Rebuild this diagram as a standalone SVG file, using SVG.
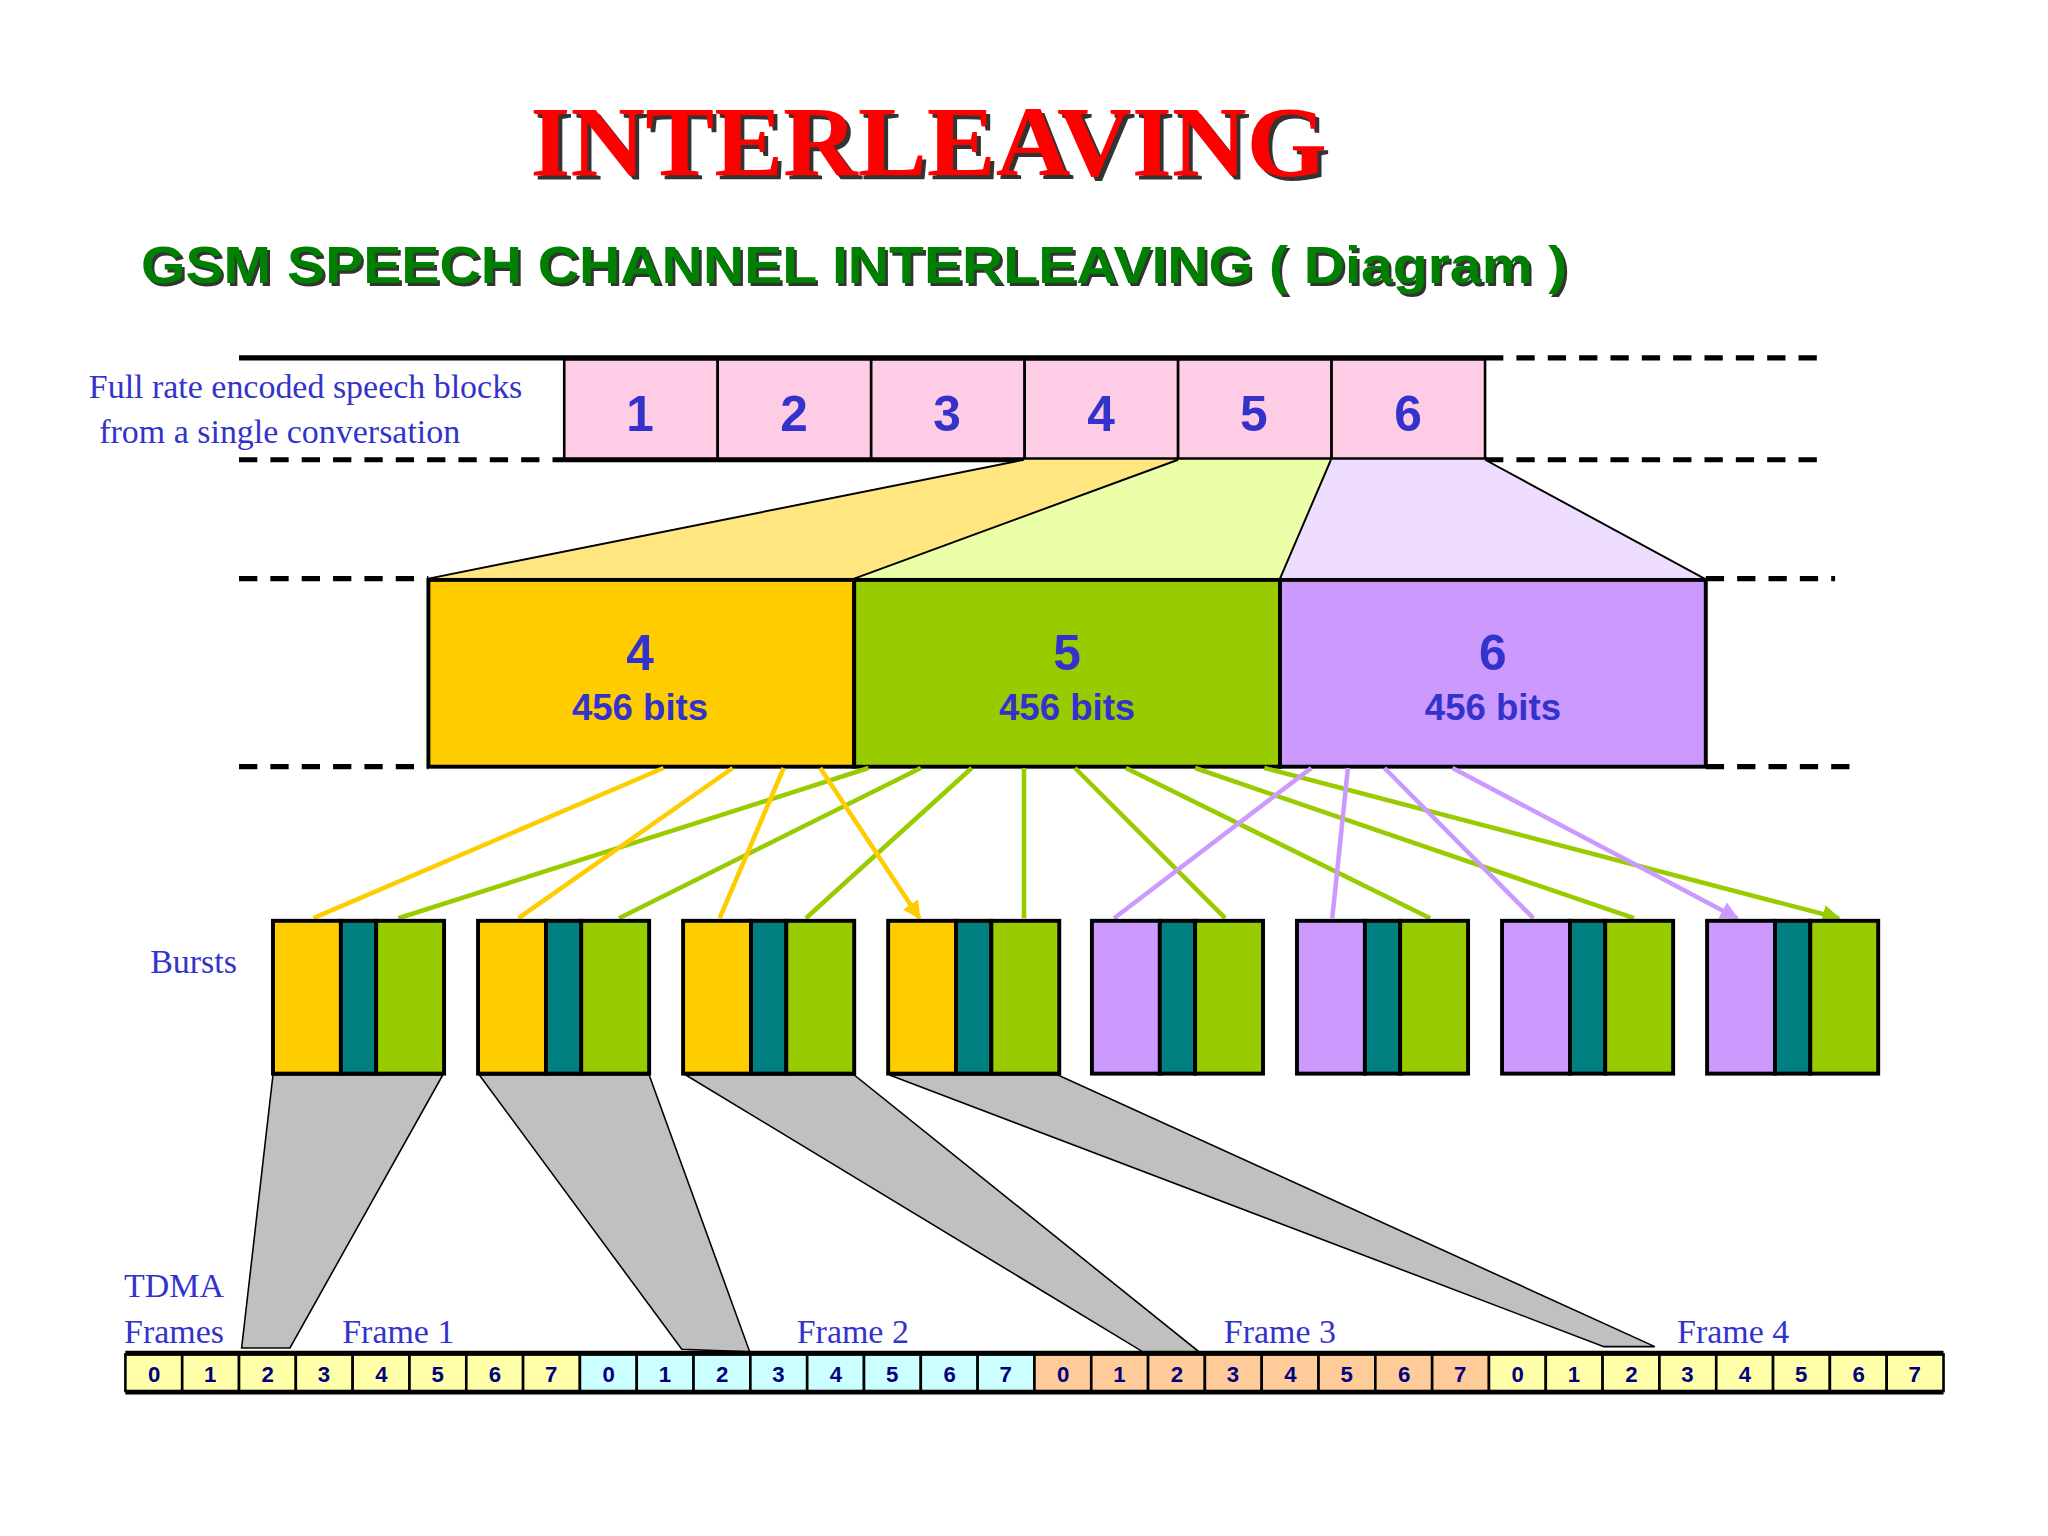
<svg xmlns="http://www.w3.org/2000/svg" width="2048" height="1536" viewBox="0 0 2048 1536">
<defs>
<style>
.lbl{font-family:"Liberation Serif",serif;font-size:26px;fill:#3333CC}
.num{font-family:"Liberation Sans",Arial,sans-serif;font-weight:bold;fill:#3333CC;text-anchor:middle}
.tn{font-family:"Liberation Sans",Arial,sans-serif;font-weight:bold;font-size:17px;fill:#000080;text-anchor:middle}
.dash{stroke:#000;stroke-width:4;stroke-dasharray:14 10;fill:none}
.solid{stroke:#000;stroke-width:4;fill:none}
.ay{stroke:#FFCC00;stroke-width:3.5;fill:none;marker-end:url(#my)}
.ag{stroke:#99CC00;stroke-width:3.5;fill:none;marker-end:url(#mg)}
.ap{stroke:#CC99FF;stroke-width:3.5;fill:none;marker-end:url(#mp)}
.fun{fill:#C0C0C0;stroke:#000;stroke-width:1.2}
.bx{stroke:#000;stroke-width:3}
</style>
<marker id="my" viewBox="0 0 10 10" refX="9" refY="5" markerWidth="4" markerHeight="4" orient="auto"><path d="M0,0 L10,5 L0,10 z" fill="#FFCC00"/></marker>
<marker id="mg" viewBox="0 0 10 10" refX="9" refY="5" markerWidth="4" markerHeight="4" orient="auto"><path d="M0,0 L10,5 L0,10 z" fill="#99CC00"/></marker>
<marker id="mp" viewBox="0 0 10 10" refX="9" refY="5" markerWidth="4" markerHeight="4" orient="auto"><path d="M0,0 L10,5 L0,10 z" fill="#CC99FF"/></marker>
</defs>
<rect width="2048" height="1536" fill="#fff"/>
<g transform="scale(1.30612)">
<g id="title">
<text x="714" y="137" font-family="Liberation Serif,serif" font-weight="bold" font-size="76" fill="#333" text-anchor="middle" textLength="610" lengthAdjust="spacingAndGlyphs">INTERLEAVING</text>
<text x="711" y="134" font-family="Liberation Serif,serif" font-weight="bold" font-size="76" fill="#FF0000" text-anchor="middle" textLength="610" lengthAdjust="spacingAndGlyphs">INTERLEAVING</text>
<text x="110" y="219" font-family="Liberation Sans,Arial,sans-serif" font-weight="bold" font-size="40" fill="#333" textLength="1092" lengthAdjust="spacingAndGlyphs">GSM SPEECH CHANNEL INTERLEAVING ( Diagram )</text>
<text x="108" y="217" font-family="Liberation Sans,Arial,sans-serif" font-weight="bold" font-size="40" fill="#008000" textLength="1092" lengthAdjust="spacingAndGlyphs">GSM SPEECH CHANNEL INTERLEAVING ( Diagram )</text>
</g>
<g id="speech-blocks">
<text class="lbl" x="68" y="305">Full rate encoded speech blocks</text>
<text class="lbl" x="76" y="339">from a single conversation</text>
<g fill="#FFCCE5" stroke="#000" stroke-width="2">
<rect x="432" y="275" width="117.5" height="77"/><rect x="549.5" y="275" width="117.5" height="77"/><rect x="667" y="275" width="117.5" height="77"/><rect x="784.5" y="275" width="117.5" height="77"/><rect x="902" y="275" width="117.5" height="77"/><rect x="1019.5" y="275" width="117.5" height="77"/>
</g>
<g class="num" font-size="38"><text x="490" y="330">1</text><text x="608" y="330">2</text><text x="725" y="330">3</text><text x="843" y="330">4</text><text x="960" y="330">5</text><text x="1078" y="330">6</text></g>
<path class="solid" d="M183,274 H1137 M432,352 H1137"/>
<path class="dash" d="M1137,274 H1392 M183,352 H432 M1137,352 H1392 M183,443 H328 M1306,443 H1405 M183,587 H328 M1306,587 H1418"/>
</g>
<g id="expansion">
<polygon points="784,352 902,352 654,443 328,443" fill="#FFE680"/>
<polygon points="902,352 1019,352 980,443 654,443" fill="#EAFFA8"/>
<polygon points="1019,352 1137,352 1305,443 980,443" fill="#EEDDFF"/>
<path d="M784,352 L328,443 M902,352 L654,443 M1019,352 L980,443 M1137,352 L1305,443" stroke="#000" stroke-width="1.5" fill="none"/>
</g>
<g id="blocks456">
<rect class="bx" x="328" y="444" width="326" height="143" fill="#FFCC00"/>
<rect class="bx" x="654" y="444" width="326" height="143" fill="#99CC00"/>
<rect class="bx" x="980" y="444" width="326" height="143" fill="#CC99FF"/>
<g class="num"><text x="490" y="513" font-size="38">4</text><text x="817" y="513" font-size="38">5</text><text x="1143" y="513" font-size="38">6</text>
<text x="490" y="551" font-size="28">456 bits</text><text x="817" y="551" font-size="28">456 bits</text><text x="1143" y="551" font-size="28">456 bits</text></g>
</g>
<g id="connectors">
<path class="ag" d="M665,588 L305,703 M705,588 L474,703 M744,588 L617,703 M784,588 L784,703 M823,588 L938,703 M862,588 L1095,703 M915,588 L1251,703 M968,588 L1408,703"/>
<path class="ay" d="M508,588 L240,703 M561,588 L397,703 M600,588 L551,703 M628,588 L704,703"/>
<path class="ap" d="M1004,588 L853,703 M1032,588 L1020,703 M1060,588 L1174,703 M1112,588 L1330,703"/>
<polygon class="fun" points="209,823 339,823 222,1032 185,1032"/>
<polygon class="fun" points="367,823 497,823 574,1035 522,1033"/>
<polygon class="fun" points="525,823 654,823 918,1035 875,1035"/>
<polygon class="fun" points="681,823 810,823 1267,1031 1228,1031"/>
</g>
<g id="bursts">
<text class="lbl" x="115" y="745">Bursts</text>
<g id="b1" transform="translate(209,705)"><rect width="52" height="117" fill="#FFCC00" class="bx"/><rect x="52" width="27" height="117" fill="#008080" class="bx"/><rect x="79" width="52" height="117" fill="#99CC00" class="bx"/></g>
<g id="b2" transform="translate(366,705)"><rect width="52" height="117" fill="#FFCC00" class="bx"/><rect x="52" width="27" height="117" fill="#008080" class="bx"/><rect x="79" width="52" height="117" fill="#99CC00" class="bx"/></g>
<g id="b3" transform="translate(523,705)"><rect width="52" height="117" fill="#FFCC00" class="bx"/><rect x="52" width="27" height="117" fill="#008080" class="bx"/><rect x="79" width="52" height="117" fill="#99CC00" class="bx"/></g>
<g id="b4" transform="translate(680,705)"><rect width="52" height="117" fill="#FFCC00" class="bx"/><rect x="52" width="27" height="117" fill="#008080" class="bx"/><rect x="79" width="52" height="117" fill="#99CC00" class="bx"/></g>
<g id="b5" transform="translate(836,705)"><rect width="52" height="117" fill="#CC99FF" class="bx"/><rect x="52" width="27" height="117" fill="#008080" class="bx"/><rect x="79" width="52" height="117" fill="#99CC00" class="bx"/></g>
<g id="b6" transform="translate(993,705)"><rect width="52" height="117" fill="#CC99FF" class="bx"/><rect x="52" width="27" height="117" fill="#008080" class="bx"/><rect x="79" width="52" height="117" fill="#99CC00" class="bx"/></g>
<g id="b7" transform="translate(1150,705)"><rect width="52" height="117" fill="#CC99FF" class="bx"/><rect x="52" width="27" height="117" fill="#008080" class="bx"/><rect x="79" width="52" height="117" fill="#99CC00" class="bx"/></g>
<g id="b8" transform="translate(1307,705)"><rect width="52" height="117" fill="#CC99FF" class="bx"/><rect x="52" width="27" height="117" fill="#008080" class="bx"/><rect x="79" width="52" height="117" fill="#99CC00" class="bx"/></g>
</g>
<g id="tdma">
<text class="lbl" x="95" y="993">TDMA</text>
<text class="lbl" x="95" y="1028">Frames</text>
<text class="lbl" x="262" y="1028">Frame 1</text>
<text class="lbl" x="610" y="1028">Frame 2</text>
<text class="lbl" x="937" y="1028">Frame 3</text>
<text class="lbl" x="1284" y="1028">Frame 4</text>
<g stroke="#000" stroke-width="2">
<g fill="#FFFFAA"><rect x="96" y="1037" width="43.5" height="28"/><rect x="139.5" y="1037" width="43.5" height="28"/><rect x="183" y="1037" width="43.5" height="28"/><rect x="226.5" y="1037" width="43.5" height="28"/><rect x="270" y="1037" width="43.5" height="28"/><rect x="313.5" y="1037" width="43.5" height="28"/><rect x="357" y="1037" width="43.5" height="28"/><rect x="400.5" y="1037" width="43.5" height="28"/></g>
<g fill="#CCFFFF"><rect x="444" y="1037" width="43.5" height="28"/><rect x="487.5" y="1037" width="43.5" height="28"/><rect x="531" y="1037" width="43.5" height="28"/><rect x="574.5" y="1037" width="43.5" height="28"/><rect x="618" y="1037" width="43.5" height="28"/><rect x="661.5" y="1037" width="43.5" height="28"/><rect x="705" y="1037" width="43.5" height="28"/><rect x="748.5" y="1037" width="43.5" height="28"/></g>
<g fill="#FFCC99"><rect x="792" y="1037" width="43.5" height="28"/><rect x="835.5" y="1037" width="43.5" height="28"/><rect x="879" y="1037" width="43.5" height="28"/><rect x="922.5" y="1037" width="43.5" height="28"/><rect x="966" y="1037" width="43.5" height="28"/><rect x="1009.5" y="1037" width="43.5" height="28"/><rect x="1053" y="1037" width="43.5" height="28"/><rect x="1096.5" y="1037" width="43.5" height="28"/></g>
<g fill="#FFFFAA"><rect x="1140" y="1037" width="43.5" height="28"/><rect x="1183.5" y="1037" width="43.5" height="28"/><rect x="1227" y="1037" width="43.5" height="28"/><rect x="1270.5" y="1037" width="43.5" height="28"/><rect x="1314" y="1037" width="43.5" height="28"/><rect x="1357.5" y="1037" width="43.5" height="28"/><rect x="1401" y="1037" width="43.5" height="28"/><rect x="1444.5" y="1037" width="43.5" height="28"/></g>
</g>
<path d="M96,1036 H1488 M96,1066 H1488" stroke="#000" stroke-width="3.5"/>
<g class="tn">
<text x="118" y="1058">0</text><text x="161" y="1058">1</text><text x="205" y="1058">2</text><text x="248" y="1058">3</text><text x="292" y="1058">4</text><text x="335" y="1058">5</text><text x="379" y="1058">6</text><text x="422" y="1058">7</text>
<text x="466" y="1058">0</text><text x="509" y="1058">1</text><text x="553" y="1058">2</text><text x="596" y="1058">3</text><text x="640" y="1058">4</text><text x="683" y="1058">5</text><text x="727" y="1058">6</text><text x="770" y="1058">7</text>
<text x="814" y="1058">0</text><text x="857" y="1058">1</text><text x="901" y="1058">2</text><text x="944" y="1058">3</text><text x="988" y="1058">4</text><text x="1031" y="1058">5</text><text x="1075" y="1058">6</text><text x="1118" y="1058">7</text>
<text x="1162" y="1058">0</text><text x="1205" y="1058">1</text><text x="1249" y="1058">2</text><text x="1292" y="1058">3</text><text x="1336" y="1058">4</text><text x="1379" y="1058">5</text><text x="1423" y="1058">6</text><text x="1466" y="1058">7</text>
</g>
</g>
</g>
</svg>
